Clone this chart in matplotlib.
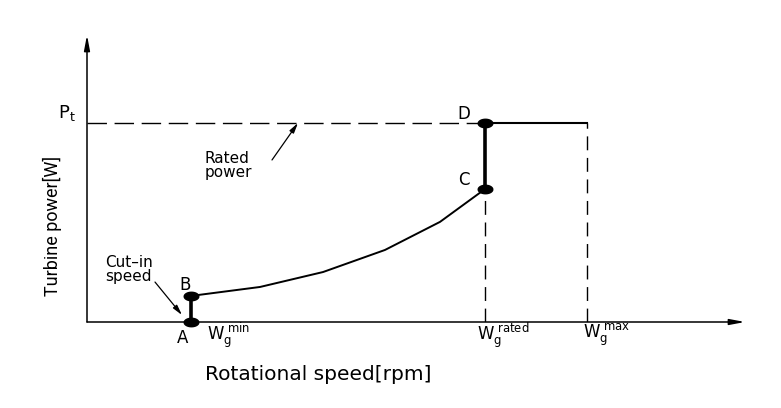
import matplotlib
matplotlib.use('Agg')
import matplotlib.pyplot as plt
from matplotlib.path import Path
import numpy as np

# ---- data (normalized: speed / w_max, power / rated power) ----
speed_curve = [0.208, 0.346, 0.472, 0.596, 0.706, 0.796]
power_curve = [0.131, 0.176, 0.251, 0.362, 0.503, 0.668]
w_min = 0.208
w_rated = 0.796
w_max = 1.0
p_rated = 1.0
point_labels = ['A', 'B', 'C', 'D']
w_labels = [r'$\mathregular{W_g^{\ min}}$', r'$\mathregular{W_g^{\ rated}}$', r'$\mathregular{W_g^{\ max}}$']
x_label = 'Rotational speed[rpm]'
y_label = 'Turbine power[W]'
rated_text = 'Rated\npower'
cutin_text = 'Cut\u2013in\nspeed'

PX = 0.72  # pixels -> points at dpi 100

fig = plt.figure(figsize=(7.81, 4.08), dpi=100)
ax = fig.add_axes([87/781, (408-322)/408, (745-87)/781, (322-35)/408])
ax.set_xlim(0, 1.316)
ax.set_ylim(0, 1.442)
ax.axis('off')

xmax, ymax = ax.get_xlim()[1], ax.get_ylim()[1]
arrow_style = '-|>,head_length=0.9,head_width=0.17'
ax.annotate('', xy=(xmax, 0), xytext=(0, 0), annotation_clip=False,
            arrowprops=dict(arrowstyle=arrow_style, lw=1.1, color='k',
                            shrinkA=0, shrinkB=0))
ax.annotate('', xy=(0, ymax), xytext=(0, 0), annotation_clip=False,
            arrowprops=dict(arrowstyle=arrow_style, lw=1.1, color='k',
                            shrinkA=0, shrinkB=0))

# dashed guide lines
ax.plot([0, w_rated], [p_rated, p_rated], color='k', lw=1.0, dashes=(14, 5.5))
ax.plot([w_rated, w_rated], [0, power_curve[-1]], color='k', lw=1.0, dashes=(10, 5.5))
ax.plot([w_max, w_max], [0, p_rated], color='k', lw=1.0, dashes=(10, 5.5))

# power curve
ax.plot(speed_curve, power_curve, color='k', lw=1.4)
ax.plot([w_rated, w_max], [p_rated, p_rated], color='k', lw=1.5)
ax.plot([w_min, w_min], [0, power_curve[0]], color='k', lw=2.6)
ax.plot([w_rated, w_rated], [power_curve[-1], p_rated], color='k', lw=2.6)

# ellipse markers
th = np.linspace(0, 2*np.pi, 61)
ell = Path(np.column_stack([np.cos(th), 0.58*np.sin(th)]))
pts_x = [w_min, w_min, w_rated, w_rated]
pts_y = [0, power_curve[0], power_curve[-1], p_rated]
ax.plot(pts_x, pts_y, ls='none', marker=ell, markersize=10.5, color='k', clip_on=False, zorder=5)

font = 'DejaVu Sans'
offsets = [(-8, -16), (-6, 11), (-21, 9), (-21, 9)]
for lab, x, y, (dx, dy) in zip(point_labels, pts_x, pts_y, offsets):
    ax.annotate(lab, xy=(x, y), xytext=(dx*PX, dy*PX), textcoords='offset points',
                ha='center', va='center', fontsize=12, family=font)

# W_g tick labels
w_pos = [w_min, w_rated, w_max]
w_off = [16, -8, -4]
for lab, x, dx in zip(w_labels, w_pos, w_off):
    ax.annotate(lab, xy=(x, 0), xytext=(dx*PX, -13*PX), textcoords='offset points',
                ha='left', va='center', fontsize=12, family=font)

# P_t
ax.annotate(r'$\mathregular{P_t}$', xy=(0, p_rated), xytext=(-20*PX, 10*PX),
            textcoords='offset points', ha='center', va='center', fontsize=13, family=font)

# Rated power annotation
rp_head = (0.422, p_rated)
ax.annotate('', xy=rp_head, xytext=(-26*PX, -37*PX), textcoords='offset points',
            arrowprops=dict(arrowstyle='-|>,head_length=0.6,head_width=0.15', lw=0.9,
                            color='k', shrinkA=0, shrinkB=0))
ax.annotate(rated_text, xy=rp_head, xytext=(-93*PX, -28*PX), textcoords='offset points',
            ha='left', va='top', fontsize=11, family=font, linespacing=0.9)

# Cut-in speed annotation
ci_head = (0.19, 0.035)
ax.annotate('', xy=ci_head, xytext=(-27*PX, 33*PX), textcoords='offset points',
            arrowprops=dict(arrowstyle='-|>,head_length=0.6,head_width=0.15', lw=0.9,
                            color='k', shrinkA=0, shrinkB=0))
ax.annotate(cutin_text, xy=ci_head, xytext=(-77*PX, 60*PX), textcoords='offset points',
            ha='left', va='top', fontsize=11, family=font, linespacing=0.9)

# axis titles
fig.text(205/781, 1-375/408, x_label, ha='left', va='center', fontsize=14.5, family=font)
fig.text(52/781, 1-226/408, y_label, ha='center', va='center', rotation=90,
         fontsize=13, family=['Liberation Sans Narrow', 'Roboto', 'DejaVu Sans'])

fig.savefig('out.png', dpi=100)
